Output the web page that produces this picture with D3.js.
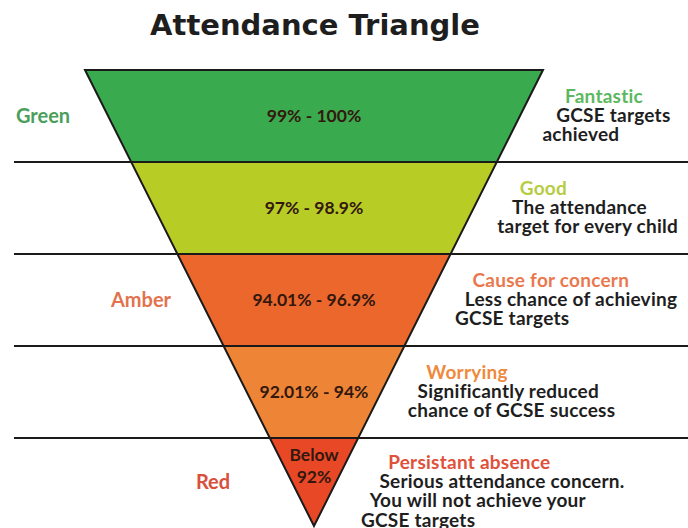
<!DOCTYPE html>
<html>
<head>
<meta charset="utf-8">
<script src="https://cdn.jsdelivr.net/npm/d3@7"></script>
<style>
  body { margin: 0; background: #fff; }
  text { font-weight: bold; }
</style>
</head>
<body>
<div id="chart"></div>
<script>
var svgWidth = 688;
var svgHeight = 528;

// bands from top (widest) to bottom (apex)
var ranges = ["99% - 100%", "97% - 98.9%", "94.01% - 96.9%", "92.01% - 94%", "Below|92%"];
var bandColors = ["#3aaa4e", "#b8cc26", "#eb672c", "#ee8536", "#e94826"];
var headings = ["Fantastic", "Good", "Cause for concern", "Worrying", "Persistant absence"];
var headingColors = ["#5cb860", "#b6cc44", "#e9784e", "#ee8a3e", "#e0503a"];
var descriptions = [
  ["GCSE targets", "achieved"],
  ["The attendance", "target for every child"],
  ["Less chance of achieving", "GCSE targets"],
  ["Significantly reduced", "chance of GCSE success"],
  ["Serious attendance concern.", "You will not achieve your", "GCSE targets"]
];
var groups = ["Green", "Amber", "Red"];
var groupColors = ["#4c9e5c", "#e2734e", "#d9503c"];
var groupBand = [0, 2, 4];

var bodyFont = "Lato, 'Open Sans', sans-serif";

var svg = d3.select("#chart")
  .append("svg")
  .attr("width", svgWidth)
  .attr("height", svgHeight)
  .style("font-family", bodyFont);

// band boundary -> y position (last band is a little shorter)
var yScale = d3.scaleLinear().domain([0, 4, 5]).range([70, 438, 526]);
// y -> half width of the triangle
var wScale = d3.scaleLinear().domain([70, 526]).range([229, 0]);
var cx = 314;

function xLeft(y) { return cx - wScale(y); }
function xRight(y) { return cx + wScale(y); }

// title
svg.append("text")
  .attr("x", 315)
  .attr("y", 35)
  .attr("text-anchor", "middle")
  .style("font-family", "'DejaVu Sans', sans-serif")
  .attr("font-size", 29)
  .attr("fill", "#1e1e1e")
  .text("Attendance Triangle");

// bands
svg.selectAll("path.band")
  .data(ranges)
  .enter()
  .append("path")
  .attr("class", "band")
  .attr("fill", function(d, i) { return bandColors[i]; })
  .attr("d", function(d, i) {
    var y0 = yScale(i), y1 = yScale(i + 1);
    return d3.line()([
      [xLeft(y0), y0], [xRight(y0), y0],
      [xRight(y1), y1], [xLeft(y1), y1]
    ]);
  });

// horizontal separators across the page
svg.selectAll("line.sep")
  .data(d3.range(1, 5))
  .enter()
  .append("line")
  .attr("x1", 14)
  .attr("x2", svgWidth)
  .attr("y1", function(d) { return yScale(d); })
  .attr("y2", function(d) { return yScale(d); })
  .attr("stroke", "#1a1a1a")
  .attr("stroke-width", 2);

// triangle outline
var yTop = yScale(0), yApex = yScale(5);
svg.append("path")
  .attr("d", d3.line()([[xLeft(yTop), yTop], [xRight(yTop), yTop], [cx, yApex]]) + "Z")
  .attr("fill", "none")
  .attr("stroke", "#1a1a1a")
  .attr("stroke-width", 2);

// range labels in the bands
svg.selectAll("text.range")
  .data(ranges)
  .enter()
  .append("text")
  .attr("class", "range")
  .attr("text-anchor", "middle")
  .attr("font-size", 17.5)
  .attr("fill", "#33180f")
  .each(function(d, i) {
    var lines = d.split("|");
    var mid = (yScale(i) + yScale(i + 1)) / 2;
    var el = d3.select(this);
    lines.forEach(function(l, j) {
      el.append("tspan")
        .attr("x", cx)
        .attr("y", lines.length > 1 ? yScale(i) + 23 + j * 22 : mid + 6)
        .text(l);
    });
  });

// group labels on the left
var groupX = [43, 141, 213];
svg.selectAll("text.group")
  .data(groups)
  .enter()
  .append("text")
  .attr("class", "group")
  .attr("x", function(d, i) { return groupX[i]; })
  .attr("y", function(d, i) {
    var b = groupBand[i];
    return (yScale(b) + yScale(b + 1)) / 2 + 7;
  })
  .attr("text-anchor", "middle")
  .attr("font-size", 20)
  .attr("fill", function(d, i) { return groupColors[i]; })
  .text(function(d) { return d; });

// descriptions on the right, each line stepping in along the slope
var lineGap = 19.4;
var indent = [
  [-1, 0, -4],
  [0, 2, -3],
  [-1, 1, 1],
  [-1, 0, 0],
  [6, 7, 7, 8]
];

svg.selectAll("g.info")
  .data(headings)
  .enter()
  .append("g")
  .attr("class", "info")
  .each(function(d, i) {
    var g = d3.select(this);
    var lines = [d].concat(descriptions[i]);
    var top = yScale(i) + (i === 4 ? 24 : 26);
    lines.forEach(function(l, j) {
      var yc = top + j * lineGap;
      g.append("text")
        .attr("x", xRight(yc) + 36 + indent[i][j])
        .attr("y", yc + 6.5)
        .attr("font-size", 19)
        .attr("letter-spacing", 0.25)
        .attr("fill", j === 0 ? headingColors[i] : "#1e1e1e")
        .text(l);
    });
  });
</script>
</body>
</html>
